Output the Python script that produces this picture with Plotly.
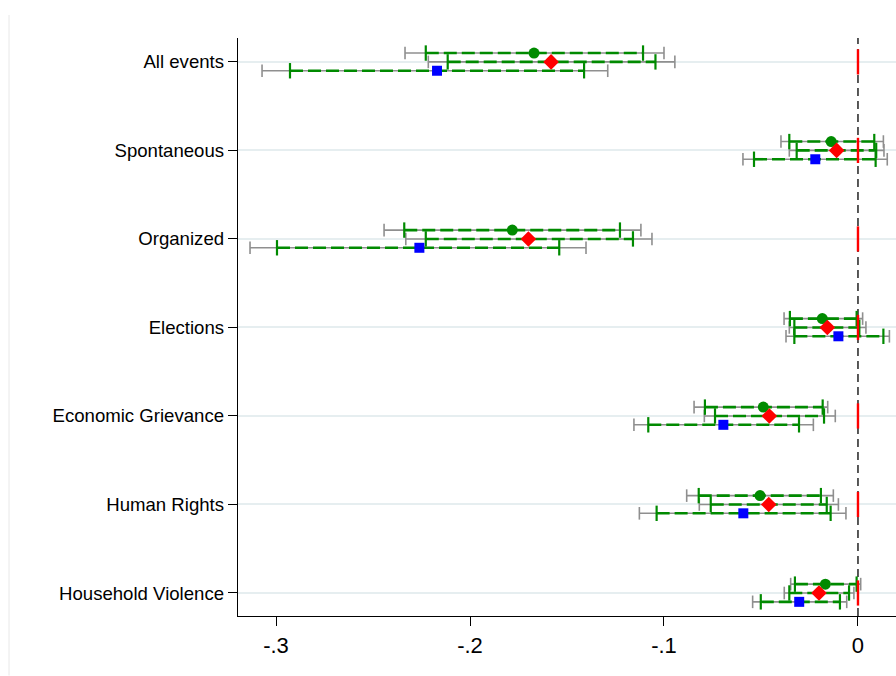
import plotly.graph_objects as go

# Event categories (top to bottom)
categories = ["All events", "Spontaneous", "Organized", "Elections",
              "Economic Grievance", "Human Rights", "Household Violence"]

# Model 1 (green circles)
m1_est = [-0.167, -0.0138, -0.1782, -0.0184, -0.0488, -0.0505, -0.0168]
m1_lo90 = [-0.2228, -0.0354, -0.2339, -0.0351, -0.0789, -0.0821, -0.0325]
m1_hi90 = [-0.1108, 0.0084, -0.1227, -0.0007, -0.0182, -0.0191, -0.0007]
m1_lo95 = [-0.2335, -0.0397, -0.2443, -0.0381, -0.0845, -0.0883, -0.0347]
m1_hi95 = [-0.1000, 0.0131, -0.1119, 0.0024, -0.0156, -0.0127, 0.0014]

# Model 2 (red diamonds)
m2_est = [-0.1582, -0.0110, -0.1699, -0.0158, -0.0457, -0.0460, -0.0201]
m2_lo90 = [-0.2115, -0.0316, -0.2228, -0.0328, -0.0737, -0.0759, -0.0354]
m2_hi90 = [-0.1044, 0.0094, -0.1160, 0.0007, -0.0175, -0.0161, -0.0046]
m2_lo95 = [-0.2215, -0.0354, -0.2331, -0.0354, -0.0792, -0.0818, -0.0380]
m2_hi95 = [-0.0944, 0.0134, -0.1062, 0.0041, -0.0117, -0.0101, -0.0021]

# Model 3 (blue squares)
m3_est = [-0.2170, -0.0220, -0.2261, -0.0101, -0.0694, -0.0591, -0.0303]
m3_lo90 = [-0.2928, -0.0536, -0.2995, -0.0328, -0.1081, -0.1038, -0.0501]
m3_hi90 = [-0.1412, 0.0091, -0.1540, 0.0131, -0.0304, -0.0141, -0.0093]
m3_lo95 = [-0.3072, -0.0593, -0.3134, -0.0371, -0.1155, -0.1127, -0.0543]
m3_hi95 = [-0.1290, 0.0151, -0.1402, 0.0162, -0.0230, -0.0062, -0.0058]

# Reference (omitted) level drawn at zero for each category
base_est = [0.0] * len(categories)

x_ticks = [-0.3, -0.2, -0.1, 0.0]
x_tick_labels = ["-.3", "-.2", "-.1", "0"]

GREEN = "#008a00"
RED = "#ff0000"
BLUE = "#0000ff"
GRAY = "#8f8f8f"
FONT = "Liberation Sans, Arial, sans-serif"

models = [
    dict(est=m1_est, lo90=m1_lo90, hi90=m1_hi90, lo95=m1_lo95, hi95=m1_hi95,
         offset=-0.1, color=GREEN, symbol="circle", size=11),
    dict(est=m2_est, lo90=m2_lo90, hi90=m2_hi90, lo95=m2_lo95, hi95=m2_hi95,
         offset=0.0, color=RED, symbol="diamond", size=12),
    dict(est=m3_est, lo90=m3_lo90, hi90=m3_hi90, lo95=m3_lo95, hi95=m3_hi95,
         offset=0.1, color=BLUE, symbol="square", size=10),
]

cat_pos = list(range(len(categories)))


def segments(lo, hi, ys):
    xs, yy = [], []
    for a, b, y in zip(lo, hi, ys):
        xs += [a, b, None]
        yy += [y, y, None]
    return xs, yy


fig = go.Figure()

# 95% intervals: thin gray lines with caps
for m in models:
    ys = [p + m["offset"] for p in cat_pos]
    xs, yy = segments(m["lo95"], m["hi95"], ys)
    fig.add_trace(go.Scatter(x=xs, y=yy, mode="lines",
                             line=dict(color=GRAY, width=1.6),
                             hoverinfo="skip", showlegend=False))
    fig.add_trace(go.Scatter(x=m["lo95"] + m["hi95"], y=ys + ys, mode="markers",
                             marker=dict(symbol="line-ns", size=9,
                                         line=dict(color=GRAY, width=1.6)),
                             hoverinfo="skip", showlegend=False))

# 90% intervals: dashed green lines with caps
for m in models:
    ys = [p + m["offset"] for p in cat_pos]
    xs, yy = segments(m["lo90"], m["hi90"], ys)
    fig.add_trace(go.Scatter(x=xs, y=yy, mode="lines",
                             line=dict(color=GREEN, width=2.6, dash="13px,5px"),
                             hoverinfo="skip", showlegend=False))
    fig.add_trace(go.Scatter(x=m["lo90"] + m["hi90"], y=ys + ys, mode="markers",
                             marker=dict(symbol="line-ns", size=11,
                                         line=dict(color=GREEN, width=2.2)),
                             hoverinfo="skip", showlegend=False))

# Reference level marker at zero
fig.add_trace(go.Scatter(x=base_est, y=cat_pos, mode="markers",
                         marker=dict(symbol="line-ns", size=18,
                                     line=dict(color=RED, width=2.4)),
                         hoverinfo="skip", showlegend=False))

# Point estimates
for m in models:
    ys = [p + m["offset"] for p in cat_pos]
    fig.add_trace(go.Scatter(x=m["est"], y=ys, mode="markers",
                             marker=dict(symbol=m["symbol"], size=m["size"],
                                         color=m["color"], line=dict(width=0)),
                             showlegend=False))

# Zero reference line
fig.add_shape(type="line", xref="x", yref="paper", x0=0, x1=0, y0=0, y1=1,
              line=dict(color="black", width=1.3, dash="8px,5px"), layer="below")

# Faint border at the left of the graph region
fig.add_shape(type="line", xref="paper", yref="paper",
              x0=-0.348, x1=-0.348, y0=-0.103, y1=1.04,
              line=dict(color="#ececec", width=1.2))

fig.update_layout(
    width=896, height=676,
    margin=dict(l=238, r=0, t=38, b=60),
    paper_bgcolor="white", plot_bgcolor="white",
    font=dict(family=FONT, color="black"),
    xaxis=dict(range=[-0.3196, 0.0196], tickvals=x_ticks, ticktext=x_tick_labels,
               ticks="outside", ticklen=9, tickwidth=1.3, tickcolor="black",
               showline=True, linecolor="black", linewidth=1.4,
               showgrid=False, zeroline=False,
               tickfont=dict(size=22, family=FONT)),
    yaxis=dict(range=[6.26, -0.27], tickvals=cat_pos, ticktext=categories,
               ticks="outside", ticklen=9, tickwidth=1.3, tickcolor="black",
               showline=True, linecolor="black", linewidth=1.4,
               showgrid=True, gridcolor="#e6eef0", gridwidth=1.5,
               zeroline=False, tickfont=dict(size=18.6, family=FONT)),
)

fig.write_html("out.html")
